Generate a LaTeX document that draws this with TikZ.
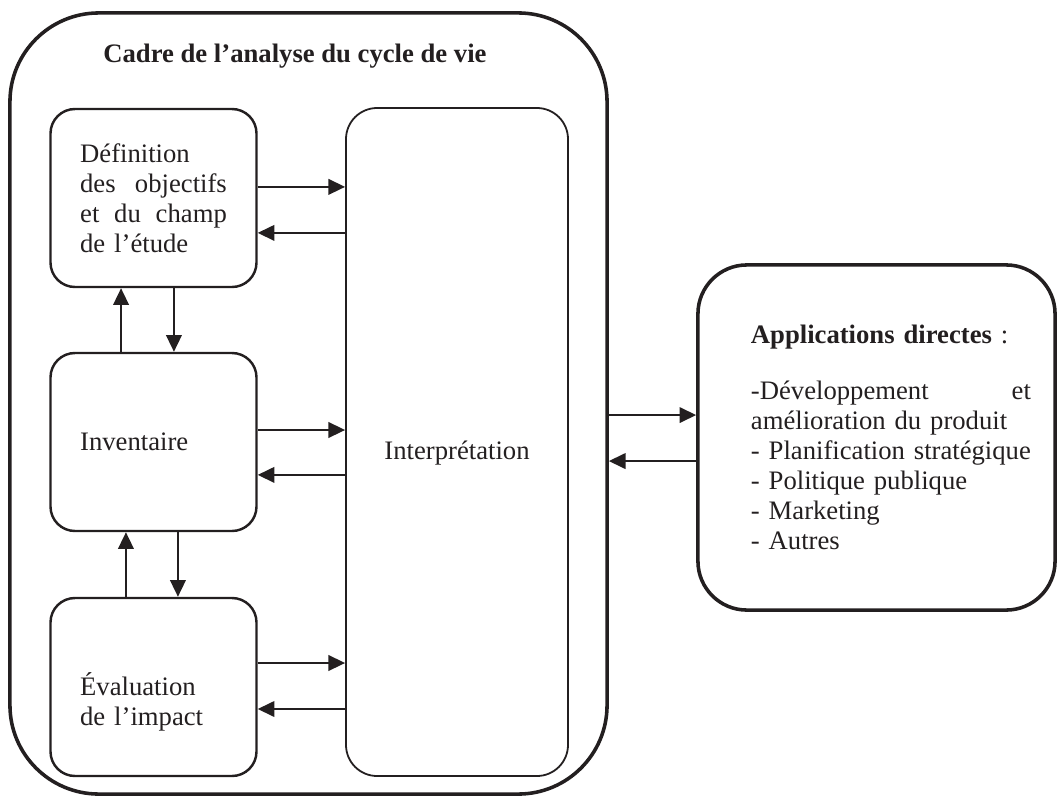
\documentclass[tikz,border=0pt]{standalone}
\usepackage{fontspec}
\setmainfont{Liberation Serif}
\usetikzlibrary{arrows.meta}
\definecolor{ink}{HTML}{231F20}
\tikzset{
	stage/.style={draw=ink, line width=1.1pt, rounded corners=11pt, minimum width=92.7pt, minimum height=80.1pt, text width=66pt, inner sep=0pt, align=left},
	flow/.style={draw=ink, line width=0.9pt, -{Triangle[length=7.5pt,width=7pt]}}
}
\begin{document}
\begin{tikzpicture}[x=0.45pt, y=-0.45pt, font=\fontsize{12}{13.5}\selectfont, text=ink]
	\useasboundingbox (0,0) rectangle (1058,796);
	\node (frame) at (308.5, 403.5)	[draw=ink, line width=1.6pt, rounded corners=40pt, minimum width=268.7pt, minimum height=351.5pt, inner sep=0pt]	{};
	\node (title) at (295, 62)	[anchor=base, font=\fontsize{12}{13.5}\selectfont\bfseries]	{Cadre de l’analyse du cycle de vie};
	\node (def) at (153.5, 198)	[stage]	{Définition\\des\hfill objectifs\\et\hfill du\hfill champ\\de l’étude};
	\node (inv) at (153.5, 442)	[stage]	{Inventaire};
	\node (eval) at (153.5, 687)	[stage, text height=24pt]	{Évaluation\\de l’impact};
	\node (interp) at (457, 442)	[draw=ink, line width=0.8pt, rounded corners=14pt, minimum width=99.9pt, minimum height=300.6pt, text height=19pt, text depth=3pt]	{Interprétation};
	\node (app) at (876.5, 437.5)	[draw=ink, line width=1.6pt, rounded corners=22pt, minimum width=160.7pt, minimum height=155.3pt, text width=139pt, inner sep=0pt, align=left]	{\leftskip=13pt \textbf{Applications directes} :\\[12pt]-Développement\hfill et\\amélioration du produit\\- Planification stratégique\\- Politique publique\\- Marketing\\- Autres\par};
	% stages <-> interpretation
	\draw[flow] ([yshift=5pt]def.east) -- ([yshift=5pt]def.east -| interp.west);
	\draw[flow] ([yshift=-15.7pt]interp.west |- def.east) -- ([yshift=-15.7pt]def.east);
	\draw[flow] ([yshift=5.4pt]inv.east) -- ([yshift=5.4pt]inv.east -| interp.west);
	\draw[flow] ([yshift=-14.8pt]interp.west |- inv.east) -- ([yshift=-14.8pt]inv.east);
	\draw[flow] ([yshift=10.8pt]eval.east) -- ([yshift=10.8pt]eval.east -| interp.west);
	\draw[flow] ([yshift=-9.9pt]interp.west |- eval.east) -- ([yshift=-9.9pt]eval.east);
	% between stages
	\draw[flow] ([xshift=-14.6pt]inv.north) -- ([xshift=-14.6pt]inv.north |- def.south);
	\draw[flow] ([xshift=9.2pt]def.south) -- ([xshift=9.2pt]def.south |- inv.north);
	\draw[flow] ([xshift=-12.4pt]eval.north) -- ([xshift=-12.4pt]eval.north |- inv.south);
	\draw[flow] ([xshift=11pt]inv.south) -- ([xshift=11pt]inv.south |- eval.north);
	% framework <-> applications
	\draw[flow] ([yshift=-5.2pt]frame.east) -- ([yshift=-5.2pt]frame.east -| app.west);
	\draw[flow] ([yshift=-10.6pt]app.west) -- ([yshift=-10.6pt]app.west -| frame.east);
\end{tikzpicture}
\end{document}
